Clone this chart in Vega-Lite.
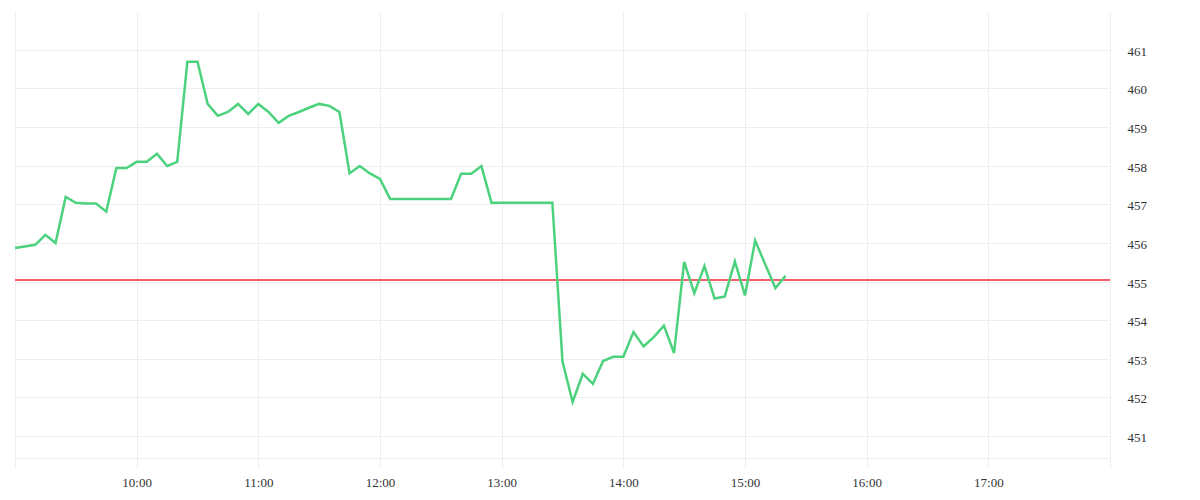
{
  "$schema": "https://vega.github.io/schema/vega-lite/v6.json",
  "width": 1095,
  "height": 446,
  "autosize": {"type": "none"},
  "padding": {"left": 15, "top": 12, "right": 90, "bottom": 42},
  "background": "white",
  "config": {
    "view": {"stroke": null},
    "font": "Liberation Serif"
  },
  "data": {
    "values": [
      {"t": "2024-01-02T09:00:00", "v": 455.87},
      {"t": "2024-01-02T09:10:00", "v": 455.95},
      {"t": "2024-01-02T09:15:00", "v": 456.21},
      {"t": "2024-01-02T09:20:00", "v": 456.0},
      {"t": "2024-01-02T09:25:00", "v": 457.19},
      {"t": "2024-01-02T09:30:00", "v": 457.04},
      {"t": "2024-01-02T09:35:00", "v": 457.02},
      {"t": "2024-01-02T09:40:00", "v": 457.02},
      {"t": "2024-01-02T09:45:00", "v": 456.81},
      {"t": "2024-01-02T09:50:00", "v": 457.94},
      {"t": "2024-01-02T09:55:00", "v": 457.94},
      {"t": "2024-01-02T10:00:00", "v": 458.1},
      {"t": "2024-01-02T10:05:00", "v": 458.1},
      {"t": "2024-01-02T10:10:00", "v": 458.31},
      {"t": "2024-01-02T10:15:00", "v": 457.99},
      {"t": "2024-01-02T10:20:00", "v": 458.1},
      {"t": "2024-01-02T10:25:00", "v": 460.69},
      {"t": "2024-01-02T10:30:00", "v": 460.69},
      {"t": "2024-01-02T10:35:00", "v": 459.6},
      {"t": "2024-01-02T10:40:00", "v": 459.29},
      {"t": "2024-01-02T10:45:00", "v": 459.39},
      {"t": "2024-01-02T10:50:00", "v": 459.6},
      {"t": "2024-01-02T10:55:00", "v": 459.34},
      {"t": "2024-01-02T11:00:00", "v": 459.6},
      {"t": "2024-01-02T11:05:00", "v": 459.39},
      {"t": "2024-01-02T11:10:00", "v": 459.11},
      {"t": "2024-01-02T11:15:00", "v": 459.29},
      {"t": "2024-01-02T11:20:00", "v": 459.39},
      {"t": "2024-01-02T11:25:00", "v": 459.5},
      {"t": "2024-01-02T11:30:00", "v": 459.6},
      {"t": "2024-01-02T11:35:00", "v": 459.55},
      {"t": "2024-01-02T11:40:00", "v": 459.39},
      {"t": "2024-01-02T11:45:00", "v": 457.8},
      {"t": "2024-01-02T11:50:00", "v": 457.99},
      {"t": "2024-01-02T11:55:00", "v": 457.8},
      {"t": "2024-01-02T12:00:00", "v": 457.66},
      {"t": "2024-01-02T12:05:00", "v": 457.14},
      {"t": "2024-01-02T12:35:00", "v": 457.14},
      {"t": "2024-01-02T12:40:00", "v": 457.79},
      {"t": "2024-01-02T12:45:00", "v": 457.79},
      {"t": "2024-01-02T12:50:00", "v": 457.99},
      {"t": "2024-01-02T12:55:00", "v": 457.04},
      {"t": "2024-01-02T13:25:00", "v": 457.04},
      {"t": "2024-01-02T13:30:00", "v": 452.93},
      {"t": "2024-01-02T13:35:00", "v": 451.88},
      {"t": "2024-01-02T13:40:00", "v": 452.61},
      {"t": "2024-01-02T13:45:00", "v": 452.35},
      {"t": "2024-01-02T13:50:00", "v": 452.94},
      {"t": "2024-01-02T13:55:00", "v": 453.05},
      {"t": "2024-01-02T14:00:00", "v": 453.05},
      {"t": "2024-01-02T14:05:00", "v": 453.69},
      {"t": "2024-01-02T14:10:00", "v": 453.32},
      {"t": "2024-01-02T14:15:00", "v": 453.56},
      {"t": "2024-01-02T14:20:00", "v": 453.86},
      {"t": "2024-01-02T14:25:00", "v": 453.15},
      {"t": "2024-01-02T14:30:00", "v": 455.51},
      {"t": "2024-01-02T14:35:00", "v": 454.7},
      {"t": "2024-01-02T14:40:00", "v": 455.4},
      {"t": "2024-01-02T14:45:00", "v": 454.56},
      {"t": "2024-01-02T14:50:00", "v": 454.61},
      {"t": "2024-01-02T14:55:00", "v": 455.52},
      {"t": "2024-01-02T15:00:00", "v": 454.64},
      {"t": "2024-01-02T15:05:00", "v": 456.06},
      {"t": "2024-01-02T15:10:00", "v": 455.44},
      {"t": "2024-01-02T15:15:00", "v": 454.83},
      {"t": "2024-01-02T15:20:00", "v": 455.15}
    ]
  },
  "encoding": {
    "x": {
      "field": "t",
      "type": "temporal",
      "scale": {
        "domain": [
          {"year": 2024, "month": 1, "date": 2, "hours": 9},
          {"year": 2024, "month": 1, "date": 2, "hours": 18}
        ],
        "nice": false
      },
      "axis": {
        "title": null,
        "values": [
          {"year": 2024, "month": 1, "date": 2, "hours": 9},
          {"year": 2024, "month": 1, "date": 2, "hours": 10},
          {"year": 2024, "month": 1, "date": 2, "hours": 11},
          {"year": 2024, "month": 1, "date": 2, "hours": 12},
          {"year": 2024, "month": 1, "date": 2, "hours": 13},
          {"year": 2024, "month": 1, "date": 2, "hours": 14},
          {"year": 2024, "month": 1, "date": 2, "hours": 15},
          {"year": 2024, "month": 1, "date": 2, "hours": 16},
          {"year": 2024, "month": 1, "date": 2, "hours": 17},
          {"year": 2024, "month": 1, "date": 2, "hours": 18}
        ],
        "labelExpr": "hours(datum.value) == 9 || hours(datum.value) == 18 ? '' : timeFormat(datum.value, '%H:%M')",
        "grid": true,
        "gridColor": "#eeeeee",
        "domainColor": "#eeeeee",
        "tickColor": "#eeeeee",
        "tickSize": 10,
        "labelPadding": 8,
        "labelFontSize": 13,
        "labelColor": "#333333",
        "labelFlush": false
      }
    },
    "y": {
      "field": "v",
      "type": "quantitative",
      "scale": {"domain": [450.43, 461.98], "nice": false, "zero": false},
      "axis": {
        "orient": "right",
        "title": null,
        "values": [451, 452, 453, 454, 455, 456, 457, 458, 459, 460, 461],
        "grid": true,
        "gridColor": "#eeeeee",
        "domain": false,
        "ticks": false,
        "labelPadding": 17,
        "labelOffset": 1.5,
        "labelFontSize": 13,
        "labelColor": "#333333"
      }
    }
  },
  "layer": [
    {
      "mark": {"type": "rule", "color": "#f5606a", "strokeWidth": 1},
      "encoding": {"x": null, "y": {"datum": 455.04}}
    },
    {
      "mark": {"type": "line", "color": "#4cd27c", "strokeWidth": 2.5}
    }
  ]
}
